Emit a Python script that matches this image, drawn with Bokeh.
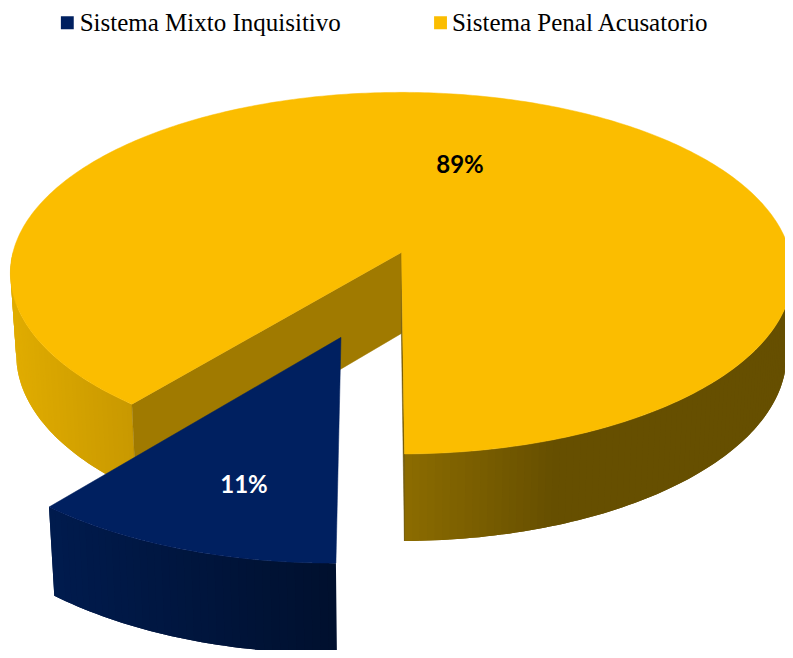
import numpy as np
from bokeh.plotting import figure
from bokeh.models import Range1d
from bokeh.core.properties import value
from bokeh.embed import file_html
from bokeh.resources import INLINE

categories = ["Sistema Mixto Inquisitivo", "Sistema Penal Acusatorio"]
shares = [11, 89]
labels = ["11%", "89%"]
top_colors = ["#002060", "#FBBD00"]
label_colors = ["#FFFFFF", "#000000"]

# wall shading: (screen x, colour) stops per slice
blue_wall_x = [47, 335]
blue_wall_rgb = [(0, 27, 78), (0, 16, 46)]
gold_wall_x = [11, 135, 408, 560, 793]
gold_wall_rgb = [(224, 172, 0), (200, 152, 0), (140, 108, 0), (102, 79, 0), (102, 79, 0)]
cut_colour = "#A07A00"
sliver_colour = "#6B5200"

# projection of the tilted disc
CX, CY = 405.0, 255.0
A, B, K = 392.4, 180.6, 0.1148
START = 179.6             # first slice begins here, clockwise from the top
EXPLODE_U, EXPLODE_V = -0.1475, 0.4515
SX, SY, DEPTH = 0.985, 1.03, 82.0
LABEL_SHIFT = -2.5
LABEL_R = [0.706, 0.55]


def project(u, v, low=False):
    d = 1 - K * np.asarray(v, dtype=float)
    X, Y = A * np.asarray(u, dtype=float) / d, B * np.asarray(v, dtype=float) / d
    if low:
        X, Y = SX * X, SY * Y + DEPTH
    return CX + X, CY + Y


def disc(theta, r=1.0):
    t = np.radians(theta)
    return r * np.sin(t), -r * np.cos(t)


def shade(x, xs, rgbs):
    c = [np.interp(x, xs, [k[i] for k in rgbs]) for i in range(3)]
    return "#%02x%02x%02x" % tuple(int(round(v)) for v in c)


p = figure(width=785, height=650, output_backend="svg", toolbar_location=None,
           x_range=Range1d(0, 793), y_range=Range1d(658, 0), min_border=0)
p.axis.visible = False
p.grid.visible = False
p.outline_line_color = None
p.background_fill_color = "#FFFFFF"
p.border_fill_color = "#FFFFFF"

spans = [s / sum(shares) * 360 for s in shares]
blue_a0, blue_a1 = START, START + spans[0]
gold_a0, gold_a1 = blue_a1, blue_a1 + spans[1]


def wall(a0, a1, ou, ov, xs, rgbs, step=1.0):
    """Front part of the outer wall, as strips that overlap so no seam shows."""
    n = max(2, int((a1 - a0) / step))
    th = np.linspace(a0, a1, n + 1)
    u, v = disc(th)
    xt, yt = project(u + ou, v + ov)
    xb, yb = project(u + ou, v + ov, low=True)
    px, py, cols = [], [], []
    for i in range(n):
        if v[i] < 0.02 and v[i + 1] < 0.02:
            continue
        j = min(i + 2, n)
        px.append([xt[i], *xt[i + 1:j + 1], *xb[i + 1:j + 1][::-1], xb[i]])
        py.append([yt[i], *yt[i + 1:j + 1], *yb[i + 1:j + 1][::-1], yb[i]])
        cols.append(shade((xt[i] + xt[i + 1]) / 2, xs, rgbs))
    p.patches(px, py, fill_color=cols, line_color=None)


def top(a0, a1, ou, ov, colour):
    th = np.linspace(a0, a1, 400)
    u, v = disc(th)
    x, y = project(np.r_[ou, u + ou], np.r_[ov, v + ov])
    p.patch(x, y, fill_color=colour, line_color=colour, line_width=0.5)


# gold slice: outer wall, the two cut faces, top face
wall(gold_a0, gold_a1, 0, 0, gold_wall_x, gold_wall_rgb)
for ang, col in ((gold_a0, cut_colour), (gold_a1, sliver_colour)):
    u, v = disc(ang)
    xa, ya = project(0, 0)
    xc, yc = project(u, v)
    xcb, ycb = project(u, v, low=True)
    xab, yab = project(0, 0, low=True)
    p.patch([xa, xc, xcb, xab], [ya, yc, ycb, yab], fill_color=col, line_color=col, line_width=0.5)
top(gold_a0, gold_a1, 0, 0, top_colors[1])

# blue slice, pulled out of the disc
wall(blue_a0, blue_a1, EXPLODE_U, EXPLODE_V, blue_wall_x, blue_wall_rgb)
top(blue_a0, blue_a1, EXPLODE_U, EXPLODE_V, top_colors[0])

# percentage labels
for i, (a0, a1, ou, ov) in enumerate(((blue_a0, blue_a1, EXPLODE_U, EXPLODE_V),
                                      (gold_a0, gold_a1, 0, 0))):
    u, v = disc((a0 + a1) / 2 + LABEL_SHIFT, LABEL_R[i])
    x, y = project(u + ou, v + ov)
    p.text([float(x)], [float(y)], text=[labels[i]], text_color=label_colors[i],
           text_font=value("Lato"), text_font_style="bold", text_font_size="24px",
           text_align="center", text_baseline="middle")

# legend
legend_sq_x = [67.5, 444.5]
legend_tx_x = [80, 456]
legend_y = 22.5
p.rect(legend_sq_x, [legend_y] * 2, width=13, height=13, fill_color=top_colors, line_color=None)
p.text(legend_tx_x, [legend_y - 0.5] * 2, text=categories, text_color="#000000",
       text_font=value("Liberation Serif"), text_font_size="25px",
       text_align="left", text_baseline="middle")

open("out.html", "w").write(file_html(p, INLINE))
